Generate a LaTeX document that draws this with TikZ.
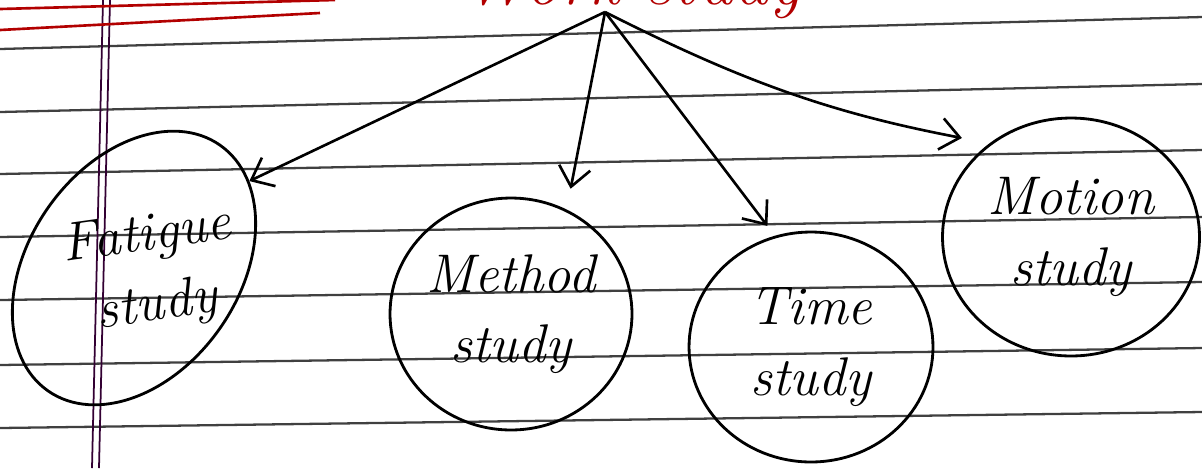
\documentclass[tikz,border=0pt]{standalone}
\usetikzlibrary{shapes.geometric,arrows.meta}
\begin{document}
\begin{tikzpicture}[x=0.02cm,y=-0.02cm,
  study/.style={draw, ellipse, line width=1.6pt, inner sep=0pt,
    font=\fontsize{31}{40}\selectfont\itshape, align=center},
  branch/.style={-{Straight Barb[length=11pt,width=18pt]}, line width=1.5pt},
  rule/.style={line width=1.3pt, black!75},
  margin/.style={line width=1pt, violet!40!black},
  redink/.style={line width=1.5pt, red!70!black}]
\useasboundingbox (0,0) rectangle (1202,468);
% notebook page
\begin{scope}
\clip (0,0) rectangle (1202,468);
\foreach \l/\r in {49/17,112/84,174/150,237/217,300/282,365/348,428/412}
  \draw[rule] (0,\l) -- (1202,\r);
\draw[margin] (103,0) -- (92,468);
\draw[margin] (110,0) -- (99,468);
\draw[redink] (0,9) -- (335,0);
\draw[redink] (0,30) -- (320,13);
\node[red!70!black, font=\fontsize{40}{40}\selectfont\itshape, anchor=base] (title) at (632,4) {Work study};
\end{scope}
% the four studies
\coordinate (root) at (605,12);
\node[study, minimum width=6cm, minimum height=4.2cm, rotate=55] (fatigue) at (134,268) {};
\node[font=\fontsize{31}{40}\selectfont\itshape, align=center, rotate=8] (fatiguetext) at (152,272) {Fatigue\\study};
\node[study, minimum width=4.84cm, minimum height=4.64cm] (method) at (511,314) {Method\\study};
\node[study, minimum width=4.88cm, minimum height=4.6cm] (time) at (811,347) {Time\\study};
\node[study, minimum width=5.14cm, minimum height=4.76cm] (motion) at (1071,237) {Motion\\study};
% arrows
\draw[branch] (root) -- (fatigue.-18);
\draw[branch, shorten >=12pt] (root) -- (method.62);
\draw[branch, shorten >=7pt] (root) -- (time.108);
\draw[branch, shorten >=16pt] (root) to[bend right=8] (motion.131);
\end{tikzpicture}
\end{document}
